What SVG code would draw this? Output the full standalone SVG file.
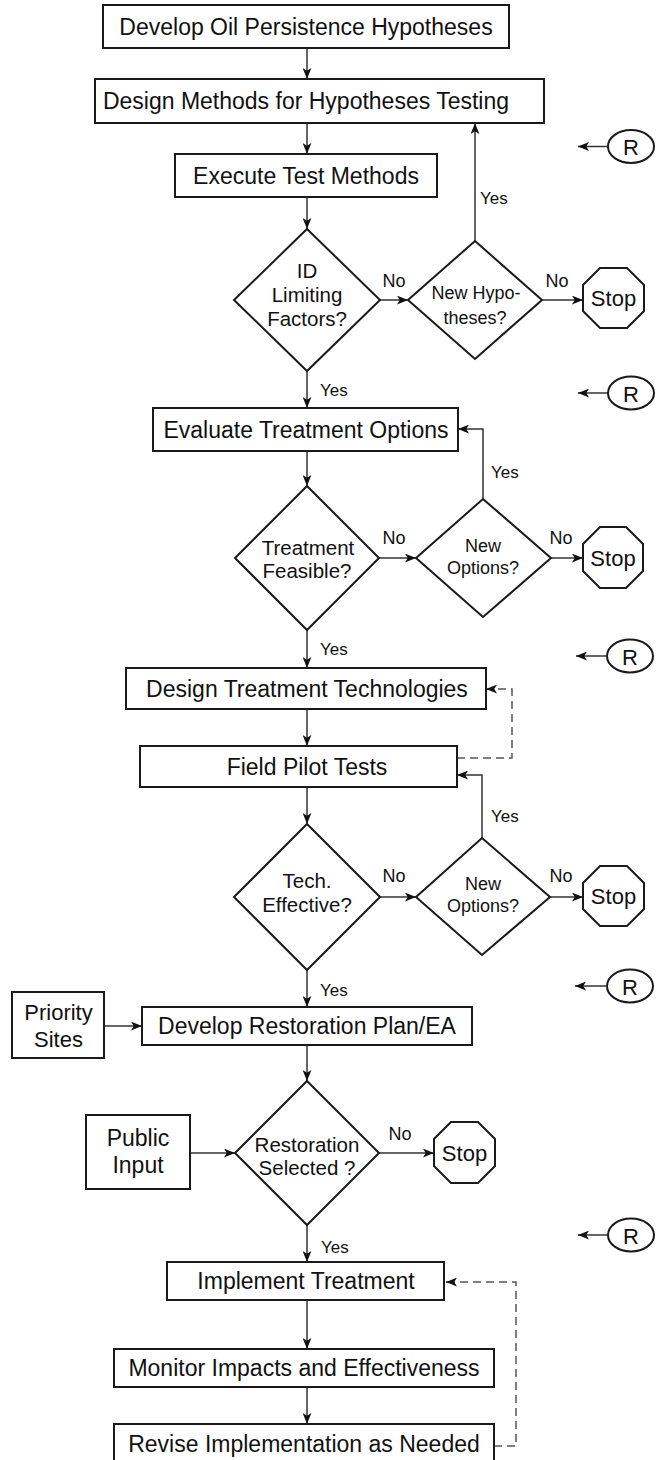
<svg xmlns="http://www.w3.org/2000/svg" width="656" height="1460" viewBox="0 0 656 1460">
<style>
.b{fill:#fff;stroke:#1a1a1a;stroke-width:2}
.t{font-family:"Liberation Sans",Arial,sans-serif;font-size:23px;fill:#111;text-anchor:middle}
.d{font-family:"Liberation Sans",Arial,sans-serif;font-size:20.5px;fill:#111;text-anchor:middle}
.s{font-family:"Liberation Sans",Arial,sans-serif;font-size:18px;fill:#111;text-anchor:middle}
.l{font-family:"Liberation Sans",Arial,sans-serif;font-size:17px;fill:#111}
.c{fill:none;stroke:#333;stroke-width:1.5}
.dash{fill:none;stroke:#555;stroke-width:1.5;stroke-dasharray:8,5}
</style>
<defs>
<marker id="ah" viewBox="0 0 10 8" refX="10" refY="4" markerWidth="11" markerHeight="9" markerUnits="userSpaceOnUse" orient="auto">
<path d="M0,0 L10,4 L0,8 L2.5,4 z" fill="#111"/>
</marker>
</defs>
<g id="connectors">
<path class="c" marker-end="url(#ah)" d="M307,48 V79"/>
<path class="c" marker-end="url(#ah)" d="M307,123 V154"/>
<path class="c" marker-end="url(#ah)" d="M307,197 V229"/>
<path class="c" marker-end="url(#ah)" d="M380,300 H408"/>
<path class="c" marker-end="url(#ah)" d="M542,300 H583"/>
<path class="c" marker-end="url(#ah)" d="M475,241 V123"/>
<path class="c" marker-end="url(#ah)" d="M608,146.5 H578"/>
<path class="c" marker-end="url(#ah)" d="M307,371 V408"/>
<path class="c" marker-end="url(#ah)" d="M307,451 V486"/>
<path class="c" marker-end="url(#ah)" d="M379,558 H416"/>
<path class="c" marker-end="url(#ah)" d="M551,558 H583"/>
<path class="c" marker-end="url(#ah)" d="M483,499 V429 H458"/>
<path class="c" marker-end="url(#ah)" d="M608,393 H578"/>
<path class="c" marker-end="url(#ah)" d="M307,630 V668"/>
<path class="c" marker-end="url(#ah)" d="M307,709 V746"/>
<path class="c" marker-end="url(#ah)" d="M307,787 V824"/>
<path class="dash" d="M457,758 H512 V689 H492"/>
<path class="c" marker-end="url(#ah)" d="M492,689 H486"/>
<path class="c" marker-end="url(#ah)" d="M482,838 V775 H457"/>
<path class="c" marker-end="url(#ah)" d="M380,897 H416"/>
<path class="c" marker-end="url(#ah)" d="M550,897 H583"/>
<path class="c" marker-end="url(#ah)" d="M606,656 H576"/>
<path class="c" marker-end="url(#ah)" d="M307,970 V1007"/>
<path class="c" marker-end="url(#ah)" d="M104,1026 H142"/>
<path class="c" marker-end="url(#ah)" d="M307,1045 V1081"/>
<path class="c" marker-end="url(#ah)" d="M190,1153 H235"/>
<path class="c" marker-end="url(#ah)" d="M379,1153 H434"/>
<path class="c" marker-end="url(#ah)" d="M606,986 H575"/>
<path class="c" marker-end="url(#ah)" d="M307,1225 V1262"/>
<path class="c" marker-end="url(#ah)" d="M608,1235 H578"/>
<path class="c" marker-end="url(#ah)" d="M307,1300 V1349"/>
<path class="c" marker-end="url(#ah)" d="M307,1387 V1424"/>
<path class="dash" d="M494,1446 H516 V1282 H452"/>
<path class="c" marker-end="url(#ah)" d="M452,1282 H446"/>
<text class="l" x="480" y="204">Yes</text>
<text class="s" x="394" y="287">No</text>
<text class="s" x="557" y="287">No</text>
<text class="l" x="320" y="396">Yes</text>
<text class="l" x="491" y="478">Yes</text>
<text class="s" x="394" y="544">No</text>
<text class="s" x="561" y="544">No</text>
<text class="l" x="320" y="655">Yes</text>
<text class="l" x="491" y="822">Yes</text>
<text class="s" x="394" y="882">No</text>
<text class="s" x="561" y="882">No</text>
<text class="l" x="320" y="996">Yes</text>
<text class="s" x="400" y="1140">No</text>
<text class="l" x="321" y="1253">Yes</text>
</g>
<g id="n1"><rect class="b" x="103" y="5" width="406" height="43"/><text class="t" x="306" y="34.5">Develop Oil Persistence Hypotheses</text></g>
<g id="n2"><rect class="b" x="95" y="79" width="449" height="44"/><text class="t" x="306" y="109">Design Methods for Hypotheses Testing</text></g>
<g id="n3"><rect class="b" x="175" y="154" width="262" height="43"/><text class="t" x="306" y="183.5">Execute Test Methods</text></g>
<g id="d1"><polygon class="b" points="307,229 380,300 307,371 234,300"/><text class="d" x="307" y="278">ID</text><text class="d" x="307" y="302">Limiting</text><text class="d" x="307" y="326">Factors?</text></g>
<g id="d2"><polygon class="b" points="475,241 542,300 475,359 408,300"/><text class="s" x="476" y="299">New Hypo-</text><text class="s" x="475" y="324">theses?</text></g>
<g id="stop1"><polygon class="b" points="600,268 627,268 644,285 644,311 627,328 600,328 583,311 583,285"/><text class="t" x="613.5" y="306" style="font-size:22px">Stop</text></g>
<g id="r1"><ellipse class="b" cx="631" cy="146.5" rx="23" ry="16.5"/><text class="t" x="631" y="155" style="font-size:22px">R</text></g>
<g id="n4"><rect class="b" x="153" y="408" width="305" height="43"/><text class="t" x="306" y="437.5">Evaluate Treatment Options</text></g>
<g id="d3"><polygon class="b" points="307,486 379,558 307,630 235,558"/><text class="d" x="308" y="555">Treatment</text><text class="d" x="307" y="578">Feasible?</text></g>
<g id="d4"><polygon class="b" points="483,499 551,558 483,617 416,558"/><text class="s" x="483" y="552">New</text><text class="s" x="483" y="574">Options?</text></g>
<g id="stop2"><polygon class="b" points="600,527 626,527 643,544 643,571 626,588 600,588 583,571 583,544"/><text class="t" x="613" y="565.5" style="font-size:22px">Stop</text></g>
<g id="r2"><ellipse class="b" cx="631" cy="393" rx="23" ry="16.5"/><text class="t" x="631" y="401.5" style="font-size:22px">R</text></g>
<g id="n5"><rect class="b" x="126" y="668" width="360" height="41"/><text class="t" x="307" y="696.5">Design Treatment Technologies</text></g>
<g id="n6"><rect class="b" x="140" y="746" width="317" height="41"/><text class="t" x="307" y="774.5">Field Pilot Tests</text></g>
<g id="d5"><polygon class="b" points="307,824 380,897 307,970 234,897"/><text class="d" x="307" y="888">Tech.</text><text class="d" x="307" y="912">Effective?</text></g>
<g id="d6"><polygon class="b" points="482,838 550,897 482,955 416,897"/><text class="s" x="483" y="890">New</text><text class="s" x="483" y="912">Options?</text></g>
<g id="stop3"><polygon class="b" points="600,866 627,866 644,883 644,909 627,926 600,926 583,909 583,883"/><text class="t" x="613.5" y="904" style="font-size:22px">Stop</text></g>
<g id="r3"><ellipse class="b" cx="630" cy="656" rx="23" ry="16.5"/><text class="t" x="630" y="664.5" style="font-size:22px">R</text></g>
<g id="r4"><ellipse class="b" cx="630" cy="986" rx="23" ry="16.5"/><text class="t" x="630" y="994.5" style="font-size:22px">R</text></g>
<g id="n7"><rect class="b" x="142" y="1007" width="330" height="38"/><text class="t" x="307" y="1034">Develop Restoration Plan/EA</text></g>
<g id="priority"><rect class="b" x="12" y="992" width="92" height="66"/><text class="t" x="58.5" y="1020" style="font-size:22px">Priority</text><text class="t" x="58.5" y="1047" style="font-size:22px">Sites</text></g>
<g id="d7"><polygon class="b" points="307,1081 379,1153 307,1225 235,1153"/><text class="d" x="307" y="1152">Restoration</text><text class="d" x="307" y="1175">Selected ?</text></g>
<g id="public"><rect class="b" x="86" y="1115" width="104" height="74"/><text class="t" x="138" y="1146">Public</text><text class="t" x="138" y="1173">Input</text></g>
<g id="stop4"><polygon class="b" points="451,1122 478,1122 495,1139 495,1166 478,1183 451,1183 434,1166 434,1139"/><text class="t" x="464.5" y="1161" style="font-size:22px">Stop</text></g>
<g id="r5"><ellipse class="b" cx="631" cy="1235" rx="23" ry="16.5"/><text class="t" x="631" y="1243.5" style="font-size:22px">R</text></g>
<g id="n8"><rect class="b" x="167" y="1262" width="277" height="38"/><text class="t" x="306" y="1289">Implement Treatment</text></g>
<g id="n9"><rect class="b" x="114" y="1349" width="380" height="38"/><text class="t" x="304" y="1376">Monitor Impacts and Effectiveness</text></g>
<g id="n10"><rect class="b" x="114" y="1424" width="380" height="40"/><text class="t" x="304" y="1452">Revise Implementation as Needed</text></g>
</svg>
